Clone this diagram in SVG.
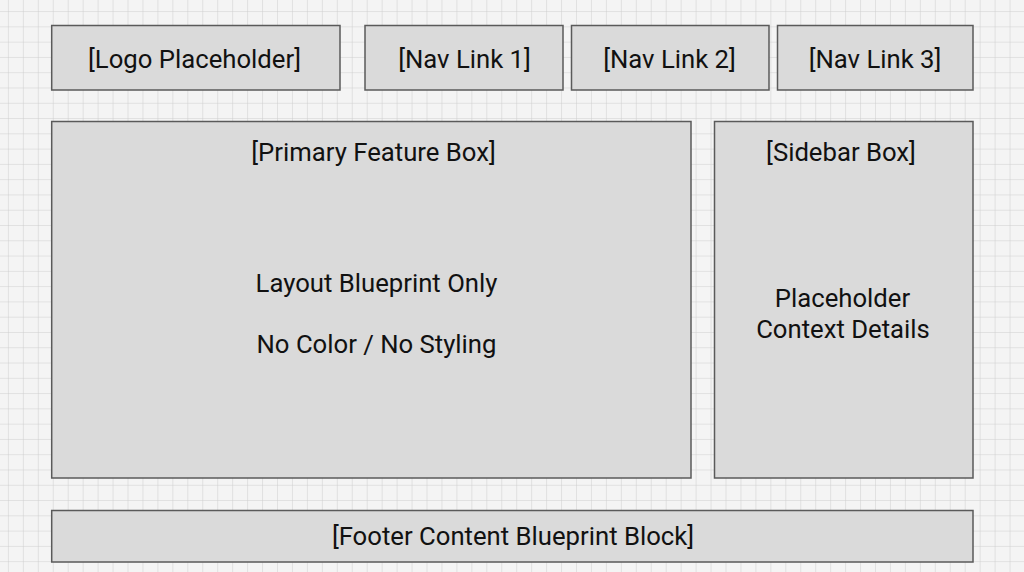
<svg xmlns="http://www.w3.org/2000/svg" width="1024" height="572" viewBox="0 0 1024 572">
<style>
.box{fill:#dadada;stroke:#5a5a5a;stroke-width:1.5}
.t{font-family:Roboto,"Liberation Sans",sans-serif;font-size:25.7px;fill:#111;text-anchor:middle}
</style>
<defs>
<pattern id="grid" patternUnits="userSpaceOnUse" x="7.9" y="11.1" width="14.95" height="15.28">
<path d="M0 0V15.28M0 0H14.95" fill="none" stroke="#cdcdcd" stroke-width="1"/>
</pattern>
</defs>
<rect width="1024" height="572" fill="#f4f4f4"/>
<rect width="1024" height="572" fill="url(#grid)"/>
<g id="logo"><rect class="box" x="51.7" y="25.5" width="288.3" height="64.5"/><text class="t" x="194.5" y="68">[Logo Placeholder]</text></g>
<g id="nav1"><rect class="box" x="365" y="25.5" width="198" height="64.5"/><text class="t" x="464.5" y="68">[Nav Link 1]</text></g>
<g id="nav2"><rect class="box" x="571.5" y="25.5" width="197.5" height="64.5"/><text class="t" x="669.5" y="68">[Nav Link 2]</text></g>
<g id="nav3"><rect class="box" x="777.5" y="25.5" width="195.5" height="64.5"/><text class="t" x="875" y="68">[Nav Link 3]</text></g>
<g id="primary"><rect class="box" x="51.7" y="121.5" width="639.3" height="356.5"/>
<text class="t" x="373.5" y="161">[Primary Feature Box]</text>
<text class="t" x="376.5" y="292">Layout Blueprint Only</text>
<text class="t" x="376.5" y="353">No Color / No Styling</text></g>
<g id="sidebar"><rect class="box" x="714.5" y="121.5" width="258.5" height="356.5"/>
<text class="t" x="841" y="161">[Sidebar Box]</text>
<text class="t" x="842.5" y="307">Placeholder</text>
<text class="t" x="843" y="338">Context Details</text></g>
<g id="footer"><rect class="box" x="51.7" y="510.5" width="921.3" height="51.5"/><text class="t" x="513" y="545">[Footer Content Blueprint Block]</text></g>
<g id="connectors"></g>
</svg>
